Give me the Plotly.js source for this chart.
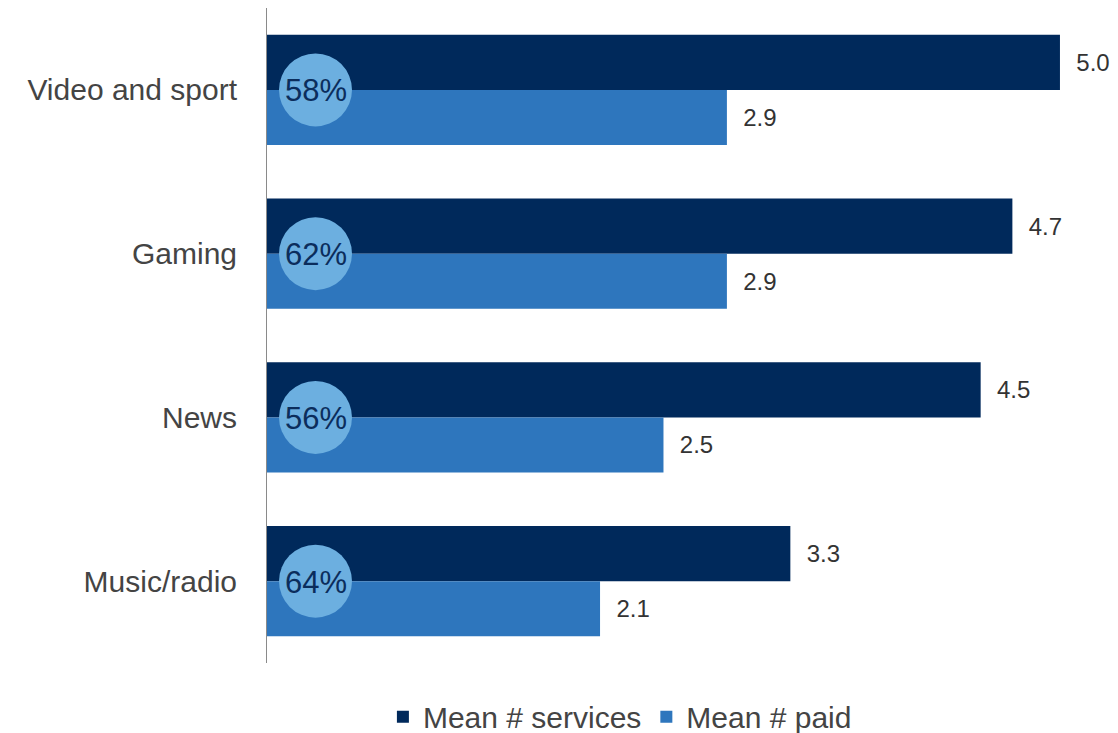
<!DOCTYPE html>
<html>
<head>
<meta charset="utf-8">
<script src="https://cdn.plot.ly/plotly-3.0.1.min.js"></script>
<style>html,body{margin:0;padding:0;background:#fff;}#chart{width:1118px;height:733px;}</style>
</head>
<body>
<div id="chart"></div>
<script>
const categories = ["Video and sport", "Gaming", "News", "Music/radio"];
const meanServices = [5.0, 4.7, 4.5, 3.3];
const meanPaid = [2.9, 2.9, 2.5, 2.1];
const pctPaid = [58, 62, 56, 64];
const seriesNames = ["Mean # services", "Mean # paid"];

const FONT = "Liberation Sans, Arial, Helvetica, sans-serif";
const NAVY = "#00295b";
const BLUE = "#2e76bd";
const LIGHT = "#6cafe0";

const pad = "\u00a0\u00a0";
const traces = [
  {
    type: "bar", orientation: "h", name: seriesNames[0],
    y: categories, x: meanServices,
    marker: {color: NAVY},
    text: meanServices.map(v => pad + v.toFixed(1)),
    textposition: "outside", constraintext: "none", cliponaxis: false,
    textfont: {family: FONT, size: 24, color: "#333333"},
    hoverinfo: "x+name"
  },
  {
    type: "bar", orientation: "h", name: seriesNames[1],
    y: categories, x: meanPaid,
    marker: {color: BLUE},
    text: meanPaid.map(v => pad + v.toFixed(1)),
    textposition: "outside", constraintext: "none", cliponaxis: false,
    textfont: {family: FONT, size: 24, color: "#333333"},
    hoverinfo: "x+name"
  }
];

const shapes = categories.map((c, i) => ({
  type: "circle", layer: "above",
  xref: "x", yref: "y",
  xsizemode: "pixel", ysizemode: "pixel",
  xanchor: 0, yanchor: i,
  x0: 12, x1: 85, y0: -36.5, y1: 36.5,
  fillcolor: LIGHT, line: {width: 0}
}));

const annotations = categories.map((c, i) => ({
  xref: "x", yref: "y", x: 0, y: i,
  xanchor: "center", yanchor: "middle", xshift: 48.5, yshift: -1,
  text: pctPaid[i] + "%", showarrow: false,
  font: {family: FONT, size: 31, color: "#0b2d5c"}
}));

const layout = {
  width: 1118, height: 733,
  margin: {l: 267, r: 0, t: 8, b: 70, autoexpand: false},
  paper_bgcolor: "#ffffff", plot_bgcolor: "#ffffff",
  barmode: "group", bargap: 0.328, bargroupgap: 0,
  font: {family: FONT, color: "#444444"},
  xaxis: {range: [0, 5.366], showgrid: false, zeroline: false, showticklabels: false, showline: false, ticks: ""},
  yaxis: {
    type: "category", range: [3.5, -0.5],
    showgrid: false, zeroline: false,
    showline: true, linecolor: "#8a8a8a", linewidth: 1,
    ticks: "outside", ticklen: 23, tickcolor: "rgba(0,0,0,0)",
    tickfont: {family: FONT, size: 30, color: "#444444"}
  },
  showlegend: true,
  legend: {
    orientation: "h", x: 0.4147, xanchor: "center", y: -0.082, yanchor: "middle",
    font: {family: FONT, size: 30, color: "#444444"},
    traceorder: "normal", itemclick: false
  },
  shapes: shapes,
  annotations: annotations
};

Plotly.newPlot("chart", traces, layout, {displayModeBar: false, staticPlot: true});
</script>
</body>
</html>
